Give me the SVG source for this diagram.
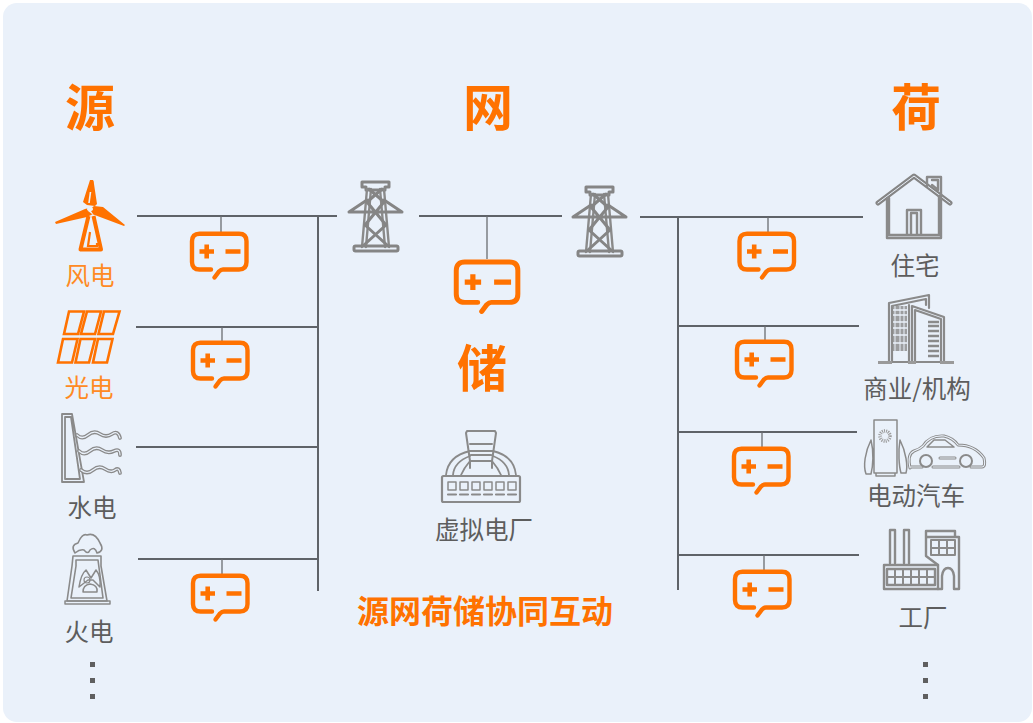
<svg xmlns="http://www.w3.org/2000/svg" width="1033" height="723" viewBox="0 0 1033 723" stroke-width="1.600">
<style>
text{font-family:"Noto Sans CJK SC","Liberation Sans",sans-serif;text-anchor:middle}
.t{font-size:50px;font-weight:700;fill:#ff7200}
.l{font-size:24.500px;fill:#5d5d5d}
.w{stroke:#5f6368;stroke-width:2;fill:none}
.v{stroke:#6a6e72;stroke-width:1.300;fill:none}
.g{fill:none;stroke:#8a8a8a;stroke-linejoin:round;stroke-linecap:round}
.gt{fill:none;stroke:#858585;stroke-linejoin:round;stroke-linecap:round}
.in{fill:none;stroke:#eaf1fa;stroke-linejoin:round;stroke-linecap:round}
.or{fill:none;stroke:#ff7200;stroke-width:2.600;stroke-linejoin:miter}
.dot{fill:#5f5f5f}
</style>
<defs>
<g id="batt">
<path d="M9.500 1.800H49Q56.500 1.800 56.500 9.300V30Q56.500 37.500 49 37.500H33Q31 37.500 29 39.500L24.500 45.500M21 37.500H9.500Q2 37.500 2 30V9.300Q2 1.800 9.500 1.800" fill="none" stroke="#ff7200" stroke-width="4.400" stroke-linecap="round"/>
<path d="M9.500 19.500H24M16.700 12.500V26.500M35.500 19.500H50.500" stroke="#ff7200" stroke-width="4.600" fill="none"/>
</g>
<g id="tower">
<path d="M14 1H41V6H37V9H18V6H14Z" class="gt" stroke-width="3"/>
<path d="M19 8L14 66M36 8L41 66M23 8L18 66M32 8L37 66" class="g" stroke-width="2.400"/>
<path d="M1 31L19 19M54 31L36 19M1 31H54M21 8L36 21L17 44L39 64M34 8L19 21L38 44L16 64" class="gt" stroke-width="3"/>
<rect x="6" y="65" width="44" height="5" rx="1.500" class="gt" stroke-width="3"/>
</g>
</defs>
<rect x="3" y="3" width="1029" height="719" rx="14" fill="#eaf1fa"/>

<g id="titles">
<text class="t" x="90" y="126">源</text>
<text class="t" x="488" y="126">网</text>
<text class="t" x="916" y="126">荷</text>
<text class="t" x="482" y="387">储</text>
<text x="485" y="623" font-size="32" font-weight="700" fill="#ff7200">源网荷储协同互动</text>
</g>

<g id="connectors">
<path class="w" d="M137 216H337M136 327H318M136 447H318M138 559H318M318 216V591M419 216H562M640 217H863M678 217V590M678 326H859M677 432H857M678 555H859"/>
<path class="v" d="M221 216V233M222 327V342M222 559V575M487 216V259M768 217V233M765 326V341M762 432V448M764 555V571"/>
</g>

<g id="wind">
<path fill="#ff7200" d="M90 180H93Q94 181 94 184L97 204L95 206L87 205L83 202ZM85 209L55 222L56 224L87 217L93 214L89 208ZM94 206L103 207L125 225L124 226L92 214L88 211Z"/>
<path d="M88.500 216L80.500 249.500H101L93.500 216" fill="none" stroke="#ff7200" stroke-width="4" stroke-linejoin="round"/>
<path d="M90 232L88 246H97V243" fill="none" stroke="#ff7200" stroke-width="2.200"/>
<path d="M90.500 192L89 203" stroke="#eaf1fa" fill="none"/>
<ellipse cx="90" cy="209" rx="3" ry="2" fill="#eaf1fa"/>
<text x="90" y="285" class="l" style="fill:#ff8a24">风电</text>
</g>

<g id="solar">
<path class="or" d="M69 311.500H84L78 334H64ZM87 311.500H101L95 334H81ZM104 311.500H119.500L113 334H98.500ZM63 339H77.500L72 362.500H58ZM80.500 339H95L89 362.500H75.500ZM98 339H112.500L107 362.500H93Z"/>
<text x="89" y="397" class="l" style="fill:#ff8a24">光电</text>
</g>

<g id="hydro">
<path class="g" stroke-width="1.800" d="M62 414H72L84 482H62ZM65 417H71L80 479H65Z"/>
<path class="g" stroke-width="3.800" d="M77 435Q82 440 88 435T100 434T112 434T120 438M79 451Q84 456 90 451T102 450T114 451T120 455M81 470Q87 475 93 470T105 469T115 470T120 473"/>
<path class="in" stroke-width="1.200" d="M77 435Q82 440 88 435T100 434T112 434T120 438M79 451Q84 456 90 451T102 450T114 451T120 455M81 470Q87 475 93 470T105 469T115 470T120 473"/>
<text x="92" y="517" class="l">水电</text>
</g>

<g id="thermal">
<path class="g" d="M75 553Q70 545 78 543Q82 533 87 535Q95 532 100 543Q105 551 97 553Q95 546 90 550Q88 555 84 550Q80 549 75 553Z"/>
<path class="g" d="M73 556H101V566L107 601H67L72 566ZM76 560H98L103 598H71L76 566Z"/>
<path class="g" stroke-width="1.500" d="M65 601H110V604H65ZM79 587Q81 574 86 570L91 578L96 570Q101 576 100 587L93 580H88ZM83 592Q83 585 90 584Q98 585 97 592Z"/>
<circle cx="87" cy="580" r="3" class="g" stroke-width="1.200"/>
<text x="89" y="641" class="l">火电</text>
</g>

<g id="dots-left"><rect class="dot" x="90" y="662" width="5" height="5"/><rect class="dot" x="90" y="678" width="5" height="5"/><rect class="dot" x="90" y="694" width="5" height="5"/></g>
<g id="dots-right"><rect class="dot" x="923" y="662" width="5" height="5"/><rect class="dot" x="923" y="678" width="5" height="5"/><rect class="dot" x="923" y="694" width="5" height="5"/></g>

<g id="tower-1"><use href="#tower" x="348" y="181"/></g>
<g id="tower-2"><use href="#tower" x="572" y="186"/></g>

<g id="batteries">
<use href="#batt" x="190" y="232"/>
<use href="#batt" x="191" y="341"/>
<use href="#batt" x="191" y="574"/>
<use href="#batt" x="737.500" y="232"/>
<use href="#batt" x="735" y="340"/>
<use href="#batt" x="732" y="447"/>
<use href="#batt" x="733" y="570"/>
<use href="#batt" transform="translate(454 260) scale(1.130)"/>
</g>

<g id="vpp">
<path class="g" d="M467 431H495L496 433L492 461H470L466 433ZM470 444H492M470 451H492M471 455H491M470 461V468M492 461V468" stroke-width="2"/>
<path class="g" d="M446 475Q448 456 470 451M516 475Q514 456 493 451M453 475Q454 462 470 456M509 475Q508 462 493 456M461 475Q464 468 470 461M501 475Q498 468 492 461" stroke-width="1.800"/>
<rect x="442" y="476" width="78" height="26" rx="1.500" class="g" stroke-width="2.200"/>
<g class="g" stroke-width="1.500"><rect x="448" y="482" width="8" height="8"/><rect x="460" y="482" width="8" height="8"/><rect x="472" y="482" width="8" height="8"/><rect x="484" y="482" width="8" height="8"/><rect x="496" y="482" width="8" height="8"/><rect x="508" y="482" width="8" height="8"/><path d="M448 494.500H456M460 494.500H468M472 494.500H480M484 494.500H492M496 494.500H504M508 494.500H516" stroke-width="2.200"/></g>
<text x="484" y="539" class="l">虚拟电厂</text>
</g>

<g id="house">
<path class="gt" stroke-width="5" d="M878 203L914 176L950 203"/>
<path class="in" stroke-width="1" d="M878 203L914 176L950 203"/>
<path class="g" stroke-width="2.400" d="M927 186V177H941V198M932 180H938V190L932 185M887 198V238H941V196M889 198V235H939V196M907 235V210H921V235M911 235V213H917V235"/>
<text x="915" y="275" class="l">住宅</text>
</g>

<g id="office">
<path class="g" stroke-width="2.200" d="M889 362V303L929 295V308M892 362V306L926 299V305M909 362V305M912 362V306L944 317V362M915 362V310L941 319V362M879 362H953"/>
<path d="M878 361H892V364H878ZM908 361H916V364H908ZM940 361H954V364H940Z" fill="#9a9a9a"/>
<path d="M893 306H907V351H893Z" fill="#8e8e8e" opacity=".85"/>
<path d="M895 306V351M900 306V351M904 306V351" stroke="#eaf1fa" stroke-width="1"/>
<path d="M893 310H907M893 315H907M893 322H907M893 328H907M893 335H907M893 343H907" stroke="#eaf1fa" stroke-width="1.500"/>
<path d="M928 322H939M928 326H939M928 331H939M928 336H939M928 341H939M928 346H939M928 351H939M928 356H939" stroke="#8a8a8a" stroke-width="2.400"/>
<text x="917" y="398" class="l">商业/机构</text>
</g>

<g id="ev">
<path class="g" stroke-width="1.500" d="M874 420H897V473H874ZM876 473H895V476H876ZM871 440C865 452 863 466 866 474H871C873 466 874 452 871 440ZM900 440C906 452 908 466 906 473H901C899 466 898 452 900 440Z"/>
<circle cx="885" cy="436" r="5" fill="none" stroke="#9a9a9a" stroke-width="3.500" stroke-dasharray="1 1"/>
<path class="g" stroke-width="3" d="M910 468Q907 454 914 451Q920 449 923 446Q930 435 944 436Q953 438 958 445Q975 445 984 458Q986 467 982 467H971M959 467H933M922 467H910M940 458H955"/>
<path class="in" stroke-width="1.100" d="M910 468Q907 454 914 451Q920 449 923 446Q930 435 944 436Q953 438 958 445Q975 445 984 458Q986 467 982 467H971M959 467H933M922 467H910M940 458H955"/>
<path class="g" stroke-width="1.500" d="M927 447L934 440H945L954 447Z"/>
<circle cx="926" cy="461" r="6" fill="#eaf1fa" stroke="#8a8a8a" stroke-width="2"/><circle cx="966" cy="461" r="6" fill="#eaf1fa" stroke="#8a8a8a" stroke-width="2"/>
<text x="916" y="505" class="l">电动汽车</text>
</g>

<g id="factory">
<path class="g" stroke-width="2.400" d="M890 563V530H895V563M904 563V530H909V563M884 565H938V589H884ZM887 569H935V585H887Z"/>
<path class="g" stroke-width="2" d="M887 577H935M895 569V585M903 569V585M911 569V585M919 569V585M927 569V585"/>
<path class="g" stroke-width="2.400" d="M926 537V531H955V537M926 537H959V589H954V576Q953 568 948 568Q943 568 942 576V589H938M926 537V556L938 565"/>
<path class="g" stroke-width="2" d="M931 540H955V555H931ZM931 548H955M939 540V555M947 540V555"/>
<text x="923" y="627" class="l">工厂</text>
</g>
</svg>
